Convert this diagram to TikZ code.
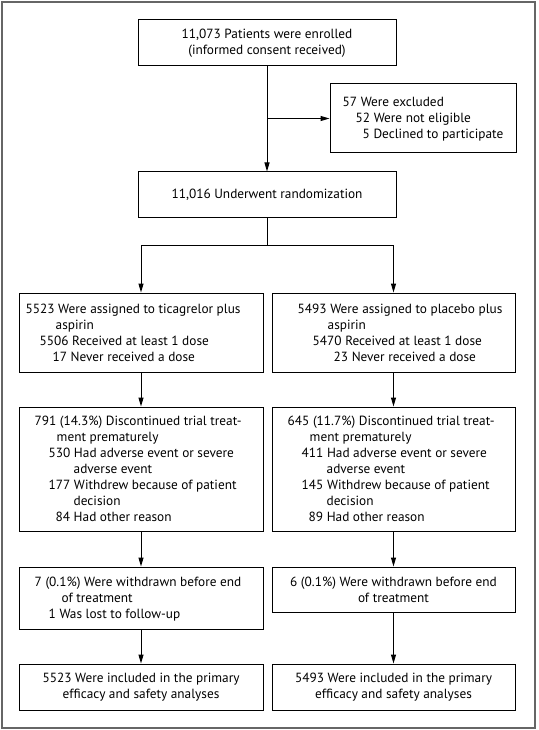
\documentclass[tikz,border=0pt]{standalone}
\usepackage{fontspec}
\setmainfont{PT Sans}
\usepackage{tikz}
\usetikzlibrary{arrows.meta}

\tikzset{
  flowbox/.style={draw=black,line width=1pt,rectangle,inner sep=0pt},
  midbox/.style={flowbox,align=center,font=\fontsize{13.3}{16}\selectfont},
  boxline/.style={inner sep=0pt,anchor=base west,font=\fontsize{13.3}{16}\selectfont},
  arr/.style={-{Triangle[length=9pt,width=5pt]},black,line width=1pt}
}
% #1 box name, #2 number of lines, #3 list of indent/text
\newcommand{\boxtext}[3]{%
  \foreach \dx/\txt [count=\i] in {#3}
    \node[boxline] (#1-\i) at ([xshift=\dx pt,yshift={(#2-1)*8pt-(\i-1)*16pt-4.5pt}]#1.west) {\txt};}

\begin{document}
\begin{tikzpicture}[x=1pt,y=-1pt]
  \useasboundingbox (0,0) rectangle (538,730);
  \draw [line width=1.5pt,color=black!60] (2,2) rectangle (535,728);

  \node[midbox,minimum width=258pt,minimum height=46pt] (enrol) at (267,43)
    {11,073 Patients were enrolled\\(informed consent received)};
  \node[flowbox,minimum width=186pt,minimum height=69pt] (excl) at (423,118.5) {};
  \node[midbox,minimum width=258pt,minimum height=45pt] (rand) at (267,194.5)
    {11,016 Underwent randomization};

  \node[flowbox,minimum width=244pt,minimum height=79pt] (ticag) at (141,332.5) {};
  \node[flowbox,minimum width=243pt,minimum height=79pt] (placeb) at (393.5,332.5) {};
  \node[flowbox,minimum width=244pt,minimum height=124pt] (discL) at (141,469) {};
  \node[flowbox,minimum width=243pt,minimum height=124pt] (discR) at (393.5,469) {};
  \node[flowbox,minimum width=244pt,minimum height=62pt] (wdL) at (141,598) {};
  \node[midbox,minimum width=243pt,minimum height=45pt] (wdR) at (393.5,589.5)
    {6 (0.1\%) Were withdrawn before end\\of treatment};
  \node[midbox,minimum width=244pt,minimum height=46pt] (inclL) at (141,687)
    {5523 Were included in the primary\\efficacy and safety analyses};
  \node[midbox,minimum width=243pt,minimum height=46pt] (inclR) at (393.5,687)
    {5493 Were included in the primary\\efficacy and safety analyses};

  % box texts with their indents
  \boxtext{excl}{3}{13/57 Were excluded, 26/52 Were not eligible, 33/5 Declined to participate}
  \boxtext{ticag}{4}{7/5523 Were assigned to ticagrelor plus, 37/aspirin,
    21/5506 Received at least 1 dose, 34/17 Never received a dose}
  \boxtext{placeb}{4}{26/5493 Were assigned to placebo plus, 56/aspirin,
    41/5470 Received at least 1 dose, 62/23 Never received a dose}
  \boxtext{discL}{7}{16/791 (14.3\%) Discontinued trial treat-, 38/ment prematurely,
    30/530 Had adverse event or severe, 55/adverse event,
    30/177 Withdrew because of patient, 55/decision, 37/84 Had other reason}
  \boxtext{discR}{7}{16/645 (11.7\%) Discontinued trial treat-, 38/ment prematurely,
    30/411 Had adverse event or severe, 55/adverse event,
    30/145 Withdrew because of patient, 55/decision, 37/89 Had other reason}
  \boxtext{wdL}{3}{16/7 (0.1\%) Were withdrawn before end, 43/of treatment,
    30/1 Was lost to follow-up}

  % enrolment and exclusion
  \coordinate (exclsplit) at (enrol.south |- excl.west);
  \draw [arr] (enrol) -- (rand);
  \draw [arr] (exclsplit) -- (excl);

  % randomization into the two groups
  \coordinate (split) at (267,245);
  \draw [black,line width=1pt] (rand) -- (split);
  \draw [arr] (split) -| (ticag);
  \draw [arr] (split) -| (placeb);

  \draw [arr] (ticag) -- (discL);
  \draw [arr] (placeb) -- (discR);
  \draw [arr] (discL) -- (wdL);
  \draw [arr] (discR) -- (wdR);
  \draw [arr] (wdL) -- (inclL);
  \draw [arr] (wdR) -- (inclR);
\end{tikzpicture}
\end{document}
